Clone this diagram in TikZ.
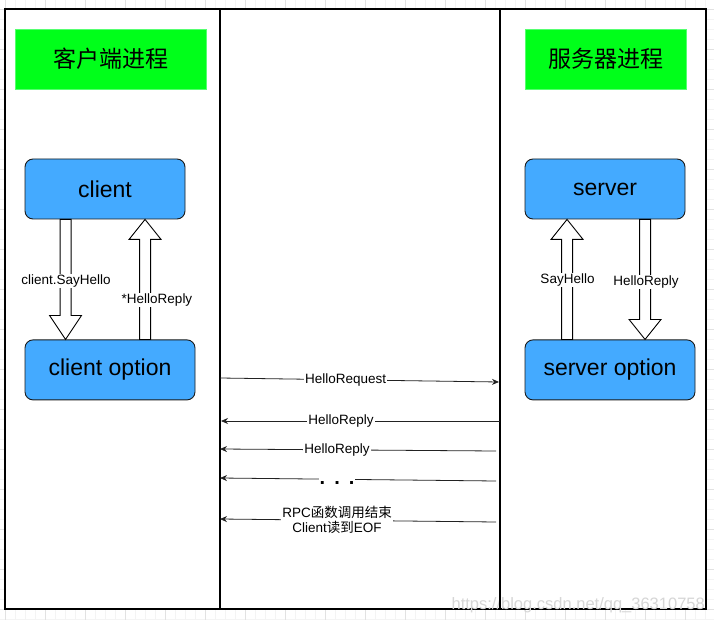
\documentclass[tikz,border=0pt]{standalone}
\usepackage{fontspec}
\setmainfont{Liberation Sans}
\newfontfamily\cjk{Noto Sans CJK SC}
\usepackage{tikz}
\usetikzlibrary{positioning, arrows.meta, calc}
\definecolor{procGreen}{HTML}{00FF1A}
\definecolor{procGreenB}{HTML}{55FF70}
\definecolor{actBlue}{HTML}{44AAFF}
\definecolor{actBlueB}{HTML}{1A1A1A}
\definecolor{msgLine}{HTML}{222222}
\definecolor{gridMinor}{HTML}{F4F4F4}
\definecolor{gridMajor}{HTML}{E2E2E2}
\definecolor{wmGray}{HTML}{D6D6D6}
\newcommand{\fatarrow}[3]{\draw[fatarr] ($(#1)+(-5.5,0)$) -- ($(#2)+(-5.5,#3)$) -- ($(#2)+(-16,#3)$) -- (#2) -- ($(#2)+(16,#3)$) -- ($(#2)+(5.5,#3)$) -- ($(#1)+(5.5,0)$) -- cycle;}

\begin{document}
\begin{tikzpicture}[x=1pt, y=-1pt, procbox/.style={draw=procGreenB, fill=procGreen, minimum width=191, minimum height=60, font=\fontsize{23}{27}\selectfont\cjk}, actbox/.style={draw=actBlueB, fill=actBlue, rounded corners=8pt, minimum height=60, line width=0.9pt, font=\fontsize{23}{27}\selectfont}, lifeline/.style={line width=2.3pt}, msg/.style={draw=msgLine, line width=0.8pt, -{Stealth[length=7pt, width=6pt]}}, msglbl/.style={fill=white, inner sep=1pt, font=\fontsize{13.5}{15}\selectfont}, arrlbl/.style={fill=white, inner sep=1pt, font=\fontsize{13.5}{15}\selectfont}, fatarr/.style={draw=black, fill=white, line width=0.9pt, line join=miter}]
\useasboundingbox (0,0) rectangle (714,620);
\foreach \gx in {15,25,...,705} \draw[gridMinor] (\gx,0) -- (\gx,620);
\foreach \gy in {-1,9,...,619} \draw[gridMinor] (0,\gy) -- (714,\gy);
\foreach \gx in {5,45,...,705} \draw[gridMajor] (\gx,0) -- (\gx,620);
\foreach \gy in {9,49,...,609} \draw[gridMajor] (0,\gy) -- (714,\gy);
\draw[fill=white, line width=1.4pt] (5,9) rectangle (706,609);
\node[anchor=south east, font=\fontsize{16.5}{18}\selectfont, text=wmGray, inner sep=0pt] (wm) at (705,613) {https://blog.csdn.net/qq\_36310758};
\coordinate (c-top) at (220,9); \coordinate (c-bot) at (220,609);
\coordinate (s-top) at (500,9); \coordinate (s-bot) at (500,609);
\draw[lifeline] (c-top) -- (c-bot);
\draw[lifeline] (s-top) -- (s-bot);
\node[procbox] (cproc) at (110.5,59) {客户端进程};
\node[procbox, minimum width=161] (sproc) at (605.5,59) {服务器进程};
\node[actbox, minimum width=160] (client) at (105,189) {client};
\node[actbox, minimum width=170, below=120pt of client.south west, anchor=north west] (copt) {client option};
\node[actbox, minimum width=160] (server) at (605,189) {server};
\node[actbox, minimum width=170, below=120pt of server.south west, anchor=north west] (sopt) {server option};
\coordinate (sh-a) at ([xshift=41pt]client.south west); \coordinate (sh-b) at ([xshift=41pt]copt.north west);
\coordinate (cr-a) at ([xshift=120.5pt]copt.north west); \coordinate (cr-b) at ([xshift=120.5pt]client.south west);
\coordinate (ss-a) at ([xshift=42.5pt]sopt.north west); \coordinate (ss-b) at ([xshift=42.5pt]server.south west);
\coordinate (sr-a) at ([xshift=120.5pt]server.south west); \coordinate (sr-b) at ([xshift=120.5pt]sopt.north west);
\fatarrow{sh-a}{sh-b}{-24}
\fatarrow{cr-a}{cr-b}{20}
\fatarrow{ss-a}{ss-b}{20}
\fatarrow{sr-a}{sr-b}{-20}
\node[arrlbl] (lsay) at (66,281) {client.SayHello};
\node[arrlbl] (lrep) at (157,300) {*HelloReply};
\node[arrlbl] (lssay) at (567.5,280) {SayHello};
\node[arrlbl] (lsrep) at (646,282) {HelloReply};
\coordinate (m1a) at (220,378); \coordinate (m1b) at (499,382);
\coordinate (m2a) at (221,421); \coordinate (m2b) at (500,421);
\coordinate (m3a) at (220,449); \coordinate (m3b) at (496,451);
\coordinate (m4a) at (220,478); \coordinate (m4b) at (496,481);
\coordinate (m5a) at (220,519); \coordinate (m5b) at (496,522);
\draw[msg] (m1a) -- node[msglbl, pos=0.45] {HelloRequest} (m1b);
\draw[msg] (m2b) -- node[msglbl, pos=0.57] {HelloReply} (m2a);
\draw[msg] (m3b) -- node[msglbl, pos=0.576] {HelloReply} (m3a);
\draw[msg] (m4b) -- node[msglbl, pos=0.576, yshift=-4pt, minimum height=14pt, font=\fontsize{20}{22}\selectfont\bfseries] {.\hspace{9pt}.\hspace{9pt}.} (m4a);
\draw[msg] (m5b) -- node[msglbl, pos=0.576, align=center] {RPC{\cjk 函数调用结束}\\Client{\cjk 读到}EOF} (m5a);
\end{tikzpicture}
\end{document}
